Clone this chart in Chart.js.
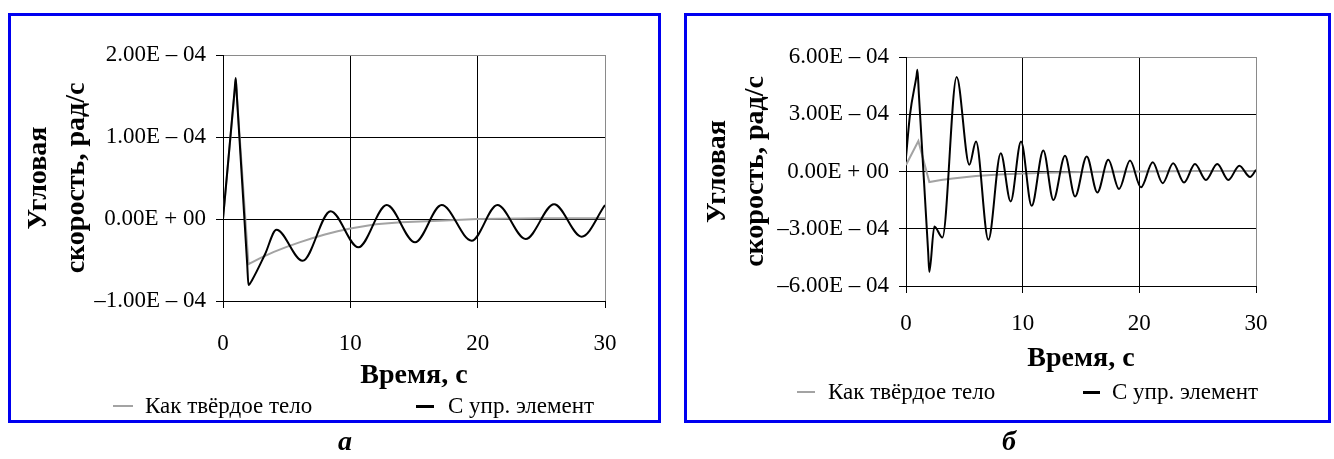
<!DOCTYPE html>
<html>
<head>
<meta charset="utf-8">
<script src="https://cdn.jsdelivr.net/npm/chart.js@4.4.1/dist/chart.umd.min.js"></script>
<style>
  html, body { margin: 0; padding: 0; background: #fff; width: 1334px; height: 459px; overflow: hidden; }
  body { position: relative; font-family: 'Liberation Serif', 'Times New Roman', serif; color: #000; }
  .frame { position: absolute; border: 3px solid #0000f0; box-sizing: border-box; }
  #frameA { left: 8px; top: 13px; width: 653px; height: 410px; }
  #frameB { left: 684px; top: 13px; width: 647px; height: 410px; }
  canvas { position: absolute; top: 0; }
  #chartA { left: 0; }
  #chartB { left: 672px; }
  .lg { position: absolute; font-size: 23px; line-height: 26px; white-space: nowrap; }
  .sw { position: absolute; }
  .cap { position: absolute; top: 425px; font: bold italic 28px 'Liberation Serif', serif; }
</style>
</head>
<body>
<div class="frame" id="frameA"></div>
<div class="frame" id="frameB"></div>
<canvas id="chartA" width="667" height="459"></canvas>
<canvas id="chartB" width="662" height="459"></canvas>
<div id="legends"></div>
<div class="cap" style="left:338px">а</div>
<div class="cap" style="left:1002px">б</div>
<script>
// values are in units of 1e-4 rad/s, time in seconds
const seriesNames = ['Как твёрдое тело', 'С упр. элемент'];
const xTicks = [0, 10, 20, 30];
const xTickLabels = ['0', '10', '20', '30'];

// panel a
const aYTicks = [-1, 0, 1, 2];
const aYTickLabels = ['\u20131.00E \u2013 04', '0.00E + 00', '1.00E \u2013 04', '2.00E \u2013 04'];
const aRigidT = [0, 1.0, 2.0, 3, 4, 5, 6, 7, 8, 9, 10, 12, 14, 17, 20, 25, 30];
const aRigidV = [0, 1.7, -0.55, -0.47, -0.40, -0.34, -0.285, -0.235, -0.19, -0.15, -0.115, -0.065, -0.04, -0.02, 0.0, 0.01, 0.01];
const aElasticT = [0, 0.9, 1.0, 1.1, 1.9, 2.0, 2.3, 3.3, 4.2, 6.25, 8.45, 10.63, 12.86, 15.08, 17.17, 19.53, 21.55, 23.77, 26.0, 28.17, 30];
const aElasticV = [0, 1.55, 1.72, 1.47, -0.55, -0.805, -0.74, -0.43, -0.13, -0.51, 0.095, -0.345, 0.17, -0.285, 0.17, -0.264, 0.17, -0.244, 0.18, -0.215, 0.17];

// panel б
const bYTicks = [-6, -3, 0, 3, 6];
const bYTickLabels = ['\u20136.00E \u2013 04', '\u20133.00E \u2013 04', '0.00E + 00', '3.00E \u2013 04', '6.00E \u2013 04'];
const bRigidT = [0, 1.06, 2.0, 3, 4, 5, 6, 7, 8, 10, 12, 15, 20, 25, 30];
const bRigidV = [0.34, 1.6, -0.55, -0.45, -0.37, -0.3, -0.24, -0.2, -0.16, -0.1, -0.06, -0.03, 0.0, 0.02, 0.03];
const bElasticT = [0, 0.34, 0.9, 0.98, 1.1, 1.9, 2.0, 2.43, 3.12, 4.34, 5.43, 6.0, 7.06, 8.12, 8.97, 9.86, 10.77, 11.77, 12.63, 13.63, 14.49, 15.49, 16.4, 17.34, 18.26, 19.2, 20.14, 21.15, 22.0, 22.9, 23.83, 24.77, 25.71, 26.68, 27.63, 28.57, 29.49, 30];
const bElasticV = [0.75, 2.97, 5.0, 5.33, 4.08, -4.23, -5.27, -2.88, -3.46, 4.95, 0.35, 1.57, -3.58, 0.96, -1.57, 1.57, -1.8, 1.10, -1.49, 0.82, -1.31, 0.79, -1.1, 0.61, -0.92, 0.57, -0.83, 0.48, -0.61, 0.43, -0.58, 0.39, -0.44, 0.39, -0.44, 0.30, -0.29, 0.09];

const family = "'Liberation Serif', 'Times New Roman', serif";
const rigidColor = '#a3a3a3';
const elasticColor = '#000';

function pts(ts, vs) { return ts.map((t, i) => ({x: t, y: vs[i]})); }

function makeChart(id, c) {
  const yMax = c.yTicks[c.yTicks.length - 1];
  return new Chart(document.getElementById(id), {
    type: 'line',
    data: {
      datasets: [
        { label: seriesNames[1], data: pts(c.elT, c.elV), borderColor: elasticColor, borderWidth: 2,
          cubicInterpolationMode: 'monotone', pointRadius: 0, order: 0 },
        { label: seriesNames[0], data: pts(c.rgT, c.rgV), borderColor: rigidColor, borderWidth: 2,
          tension: 0, pointRadius: 0, order: 1 }
      ]
    },
    options: {
      responsive: false,
      animation: false,
      events: [],
      layout: { padding: { left: 0, top: c.padTop, right: c.padRight, bottom: c.padBottom } },
      plugins: { legend: { display: false }, tooltip: { enabled: false } },
      scales: {
        x: {
          type: 'linear', min: 0, max: 30,
          afterBuildTicks: s => { s.ticks = xTicks.map(v => ({ value: v })); },
          afterFit: s => { s.height = c.xH; },
          ticks: { callback: (v, i) => xTickLabels[i], color: '#000', padding: c.xPad,
                   font: { family, size: 23 }, maxRotation: 0, autoSkip: false },
          grid: { color: g => (g.tick && g.tick.value === 30) ? '#8a8a8a' : '#000',
                  tickColor: '#000', tickLength: 7, lineWidth: 1 },
          border: { color: '#000', width: 1 },
          title: { display: true, text: 'Время, с', color: '#000', padding: 0,
                   font: { family, size: 28, weight: 'bold', lineHeight: 1 } }
        },
        y: {
          min: c.yTicks[0], max: yMax,
          afterBuildTicks: s => { s.ticks = c.yTicks.map(v => ({ value: v })); },
          afterFit: s => { s.width = c.yW; },
          ticks: { callback: (v, i) => c.yTickLabels[i], color: '#000', padding: 10,
                   font: { family, size: 23 } },
          grid: { color: g => (g.tick && g.tick.value === yMax) ? '#8a8a8a' : '#000',
                  tickColor: '#000', tickLength: 7, lineWidth: 1 },
          border: { color: '#000', width: 1 },
          title: { display: true, text: ['Угловая', 'скорость, рад/с'], color: '#000',
                   padding: { top: c.yTitlePad, bottom: 0 },
                   font: { family, size: 28, weight: 'bold', lineHeight: 1.35 } }
        }
      }
    }
  });
}

const chartA = makeChart('chartA', {
  yTicks: aYTicks, yTickLabels: aYTickLabels,
  rgT: aRigidT, rgV: aRigidV, elT: aElasticT, elV: aElasticV,
  padTop: 55, padRight: 62, padBottom: 69, yW: 223, xH: 89, xPad: 22, yTitlePad: 20
});
const chartB = makeChart('chartB', {
  yTicks: bYTicks, yTickLabels: bYTickLabels,
  rgT: bRigidT, rgV: bRigidV, elT: bElasticT, elV: bElasticV,
  padTop: 57, padRight: 78, padBottom: 86, yW: 234, xH: 87, xPad: 17, yTitlePad: 27
});

// legends below each plot, built from the chart datasets
function addLegend(chart, y, items) {
  const host = document.getElementById('legends');
  const sets = chart.data.datasets.slice().reverse();
  sets.forEach((ds, i) => {
    const it = items[i];
    const sw = document.createElement('div');
    sw.className = 'sw';
    sw.style.cssText = `left:${it.sx}px;width:${it.sw}px;top:${y - it.th / 2}px;height:${it.th}px;background:${ds.borderColor}`;
    host.appendChild(sw);
    const tx = document.createElement('div');
    tx.className = 'lg';
    tx.style.cssText = `left:${it.tx}px;top:${y - 13}px`;
    tx.textContent = ds.label;
    host.appendChild(tx);
  });
}
addLegend(chartA, 406, [{ sx: 113, sw: 20, th: 2, tx: 145 }, { sx: 416, sw: 18, th: 3, tx: 448 }]);
addLegend(chartB, 392, [{ sx: 797, sw: 18, th: 2, tx: 828 }, { sx: 1083, sw: 17, th: 3, tx: 1112 }]);
</script>
</body>
</html>
